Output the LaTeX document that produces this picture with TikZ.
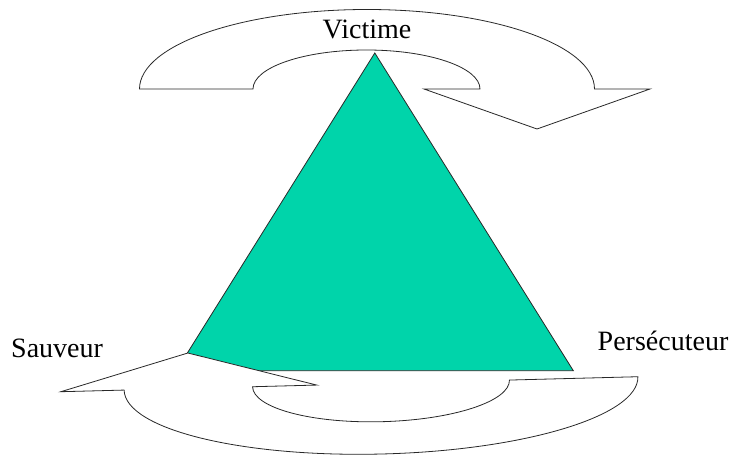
\documentclass[tikz,border=0pt]{standalone}
\usepackage{fontspec}
\setmainfont{Liberation Serif}
\definecolor{trigreen}{RGB}{0,212,170}
\definecolor{edge}{RGB}{40,40,40}
\begin{document}
\begin{tikzpicture}[x=1pt,y=1pt,
  outline/.style={draw=edge,line width=0.8pt,line join=miter},
  arrowshape/.style={outline,fill=white},
  label/.style={inner sep=0pt,font=\fontsize{28}{34}\selectfont}]
\useasboundingbox (0,0) rectangle (733,457);
% triangle
\coordinate (apex) at (374.8,404);
\coordinate (bl) at (176.3,86.3);
\coordinate (br) at (573.3,86.3);
\draw[outline,fill=trigreen] (apex) -- (br) -- (bl) -- cycle;
% top curved arrow
\draw[arrowshape] (139.5,368) arc[start angle=180,end angle=0,x radius=227.5pt,y radius=79.5pt]
  -- (650,368) -- (537,328) -- (424,368) -- (480,368)
  arc[start angle=0,end angle=180,x radius=113.5pt,y radius=39pt] -- cycle;
% bottom curved arrow
\begin{scope}[shift={(381,73.6)},rotate=1.49]
\draw[arrowshape] (-257,0) -- (-320.3,0) -- (-192.3,35.4) -- (-64.3,0) -- (-128.5,0)
  arc[start angle=180,end angle=360,x radius=128.5pt,y radius=38.3pt]
  -- (257,0) arc[start angle=0,end angle=-180,x radius=257pt,y radius=70.6pt] -- cycle;
\end{scope}
% labels
\node[label,anchor=base] (victime) at (367,418.5) {Victime};
\node[label,anchor=base west] (sauveur) at (11,99.7) {Sauveur};
\node[label,anchor=base west] (persecuteur) at (597.5,106) {Persécuteur};
\end{tikzpicture}
\end{document}
